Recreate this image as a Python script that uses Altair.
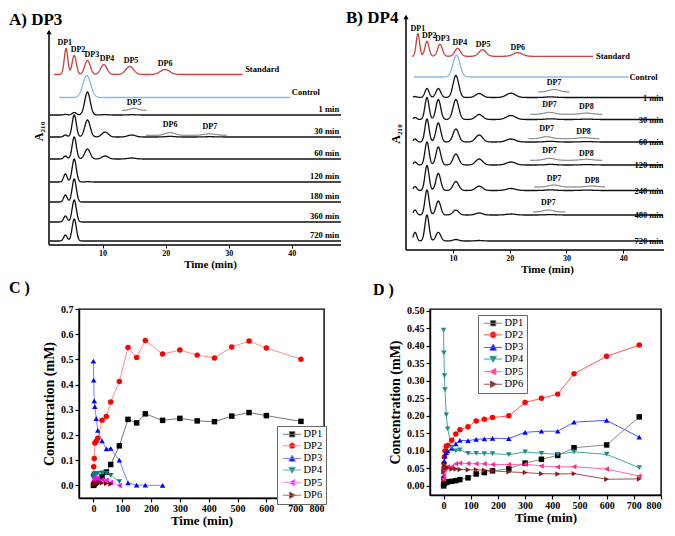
import altair as alt
import numpy as np
import pandas as pd

SERIF = "Liberation Serif"

# ======================= Panel A : DP3 hydrolysis (HPLC traces) =======================
A_axis_t = 1.5            # retention time where the y axis sits
A_xmax = 47.8
A_ydomain = [0, 228]
A_axis_top = 213
A_sigma = [0.28, 0.33, 0.43, 0.5, 0.62, 0.75, 0.9]          # peak width per DP1..DP7

A_std_rt = [4.2, 5.5, 7.6, 10.2, 14.3, 19.9]
A_std_h = [26, 19, 14, 10, 8, 5]
A_std_base = 170.5
A_std_span = [2.3, 32.2]
A_std_label_t = [4.0, 6.1, 8.3, 10.7, 14.5, 19.9]

A_ctrl_rt = [7.5]
A_ctrl_h = [22]
A_ctrl_sigma = [0.62]
A_ctrl_base = 147.5
A_ctrl_span = [3.1, 39.8]

A_names = ["1 min", "30 min", "60 min", "120 min", "180 min", "360 min", "720 min"]
A_base = [130, 108, 86, 63, 43, 23, 4]
A_rt = [4.1, 5.5, 7.6, 10.4, 14.6, 20.7, 27.0]
A_h = [
    [0.6, 2.5, 23, 0.4, 0.3, 0, 0],
    [2, 22, 17, 5, 2, 0.6, 0.3],
    [3, 22, 10, 3, 1, 0, 0],
    [8, 23, 0.3, 0, 0, 0, 0],
    [7, 23, 0, 0, 0, 0, 0],
    [6, 22, 0, 0, 0, 0, 0],
    [6, 22, 0, 0, 0, 0, 0],
]
A_span = [1.6, 47.8]
A_time_label_t = 47.5

A_inset_base = [134.7, 109.7]
A_inset_span = [[13.1, 17.0], [16.9, 29.7]]
A_inset_rt = [[15.0], [20.7, 27.0]]
A_inset_h = [[2.0], [2.7, 1.5]]
A_inset_sigma = [[0.6], [0.75, 0.9]]
A_inset_label = ["DP5", "DP6", "DP7"]
A_inset_label_t = [15.0, 20.7, 27.0]
A_inset_label_y = [138, 116, 114]

# ======================= Panel B : DP4 hydrolysis (HPLC traces) =======================
B_axis_t = 1.7
B_xmax = 47.2
B_ydomain = [0, 233]
B_axis_top = 233
B_sigma = [0.3, 0.36, 0.42, 0.5, 0.62, 0.8, 0.9, 1.0]

B_std_rt = [3.8, 5.4, 7.7, 10.8, 15.2, 21.4]
B_std_h = [22.6, 15, 12, 8, 6.6, 3.6]
B_std_base = 193.7
B_std_span = [2.75, 34.7]
B_std_label_t = [3.8, 5.8, 8.1, 11.2, 15.3, 21.4]

B_ctrl_rt = [10.6]
B_ctrl_h = [21.7]
B_ctrl_sigma = [0.62]
B_ctrl_base = 173
B_ctrl_span = [3.1, 40.9]

B_names = ["1 min", "30 min", "60 min", "120 min", "240 min", "480 min", "720 min"]
B_base = [152.5, 130.5, 108, 85, 59.5, 35, 9]
B_rt = [3.3, 5.4, 7.4, 10.5, 14.6, 20.2, 27.2, 33.6]
B_h = [
    [1, 9, 9, 22, 4, 4.3, 0.6, 0],
    [2, 22, 20, 20, 5, 4, 0.7, 0.4],
    [3, 23, 19, 13, 7, 3, 0.7, 0.4],
    [3, 23, 18, 11, 6, 3, 0.6, 0.4],
    [4, 25, 17, 9, 4.3, 2, 0.6, 0.4],
    [5, 25, 14, 5, 2, 1, 0.4, 0],
    [8.7, 26, 8.7, 1.5, 0.5, 0, 0, 0],
]
B_span = [2.9, 47.0]
B_time_label_t = 47.1

B_inset_base = [158, 135.7, 111.3, 89.7, 63, 38]
B_inset_span = [[25.0, 30.5], [23.6, 36.3], [23.3, 35.8], [23.6, 36.3], [24.3, 36.8], [24.1, 29.8]]
B_inset_rt = [[27.8], [27.0, 33.5], [26.5, 33.0], [27.0, 33.5], [27.8, 34.5], [26.8]]
B_inset_h = [[2.5], [2.0, 1.2], [2.0, 1.0], [2.0, 1.0], [2.0, 1.0], [2.0]]
B_inset_label = ["DP7", "DP7", "DP8", "DP7", "DP8", "DP7", "DP8", "DP7", "DP8", "DP7"]
B_inset_label_t = [27.8, 27.0, 33.5, 26.5, 33.0, 27.0, 33.5, 27.8, 34.5, 26.8]
B_inset_label_y = [163, 141, 139, 117, 114.5, 95, 92.5, 67, 65, 43]

# ======================= Panel C : product concentrations from DP3 =======================
C_series = ["DP1", "DP2", "DP3", "DP4", "DP5", "DP6"]
C_shapes = ["square", "circle", "triangle-up", "triangle-down", "triangle-left", "triangle-right"]
C_time = [0, 1, 3, 5, 10, 15, 30, 45, 60, 90, 120, 150, 180, 240, 300, 360, 420, 480, 540, 600, 720]
C_DP1 = [0.0, 0.002, 0.005, 0.008, 0.012, 0.018, 0.035, 0.053, 0.083, 0.157, 0.262, 0.248, 0.284,
         0.258, 0.266, 0.256, 0.253, 0.275, 0.289, 0.277, 0.254]
C_DP2 = [0.041, 0.074, 0.107, 0.168, 0.176, 0.187, 0.259, 0.273, 0.331, 0.412, 0.547, 0.508, 0.575,
         0.521, 0.537, 0.517, 0.506, 0.549, 0.573, 0.545, 0.501]
C_DP3 = [0.493, 0.418, 0.335, 0.313, 0.265, 0.218, 0.177, 0.145, 0.147, 0.100, 0.010, 0.001, 0.001, 0.0]
C_DP4 = [0.030, 0.040, 0.045, 0.047, 0.048, 0.048, 0.050, 0.048, 0.040, 0.015]
C_DP5 = [0.010, 0.020, 0.025, 0.030, 0.028, 0.025, 0.022, 0.020, 0.012, 0.0]
C_DP6 = [0.003, 0.005, 0.007, 0.008, 0.009, 0.010, 0.010, 0.008, 0.006]

# ======================= Panel D : product concentrations from DP4 =======================
D_time = [0, 1, 3, 5, 10, 15, 30, 45, 60, 90, 120, 150, 180, 240, 300, 360, 420, 480, 600, 720]
D_DP1 = [0.0, 0.005, 0.008, 0.010, 0.010, 0.012, 0.013, 0.015, 0.018, 0.023, 0.034, 0.038, 0.043,
         0.049, 0.065, 0.076, 0.087, 0.109, 0.117, 0.197]
D_DP2 = [0.020, 0.065, 0.083, 0.100, 0.113, 0.115, 0.130, 0.148, 0.160, 0.169, 0.185, 0.190, 0.195,
         0.200, 0.238, 0.250, 0.262, 0.320, 0.370, 0.402]
D_DP3 = [0.030, 0.050, 0.070, 0.085, 0.095, 0.100, 0.107, 0.120, 0.130, 0.129, 0.133, 0.134, 0.136,
         0.135, 0.153, 0.156, 0.156, 0.182, 0.187, 0.139]
D_DP4 = [0.445, 0.380, 0.315, 0.275, 0.203, 0.163, 0.110, 0.100, 0.103, 0.093, 0.093, 0.092, 0.092,
         0.089, 0.097, 0.093, 0.090, 0.097, 0.090, 0.052]
D_DP5 = [0.020, 0.030, 0.045, 0.050, 0.052, 0.055, 0.055, 0.063, 0.065, 0.064, 0.063, 0.063, 0.061,
         0.061, 0.062, 0.057, 0.054, 0.055, 0.048, 0.028]
D_DP6 = [0.040, 0.050, 0.060, 0.055, 0.054, 0.052, 0.048, 0.048, 0.047, 0.046, 0.046, 0.045, 0.043,
         0.040, 0.038, 0.035, 0.034, 0.035, 0.019, 0.020]

C_colors = ["#000000", "#ff0000", "#0000ff", "#008080", "#ff00ff", "#800000"]
D_colors = ["#000000", "#ff0000", "#0000ff", "#1f8a8a", "#ff2a8a", "#8b1a1a"]
C_line_colors = ["#777777", "#ff8c8c", "#8080ff", "#66b3b3", "#ff88ff", "#b36b6b"]
D_line_colors = ["#888888", "#ff5555", "#5555ff", "#4aa3a3", "#ff66aa", "#a05050"]

# ----------------------------- layout (pixels) -----------------------------
A_AXIS_OFFSET, A_W = 30, 262      # y-axis drawn 30 px left of panel A's view
B_AXIS_OFFSET, B_W = 24, 234
C_W, C_H, D_W, D_H = 245, 189, 231, 186


# ----------------------------------------------------------------------------------------
def peak_trace(name, kind, base, span, rts, hs, sigmas, step=0.05):
    t = np.arange(span[0], span[1] + 1e-9, step)
    y = np.full_like(t, float(base))
    for rt, h, s in zip(rts, hs, sigmas):
        if h:
            y = y + h * np.exp(-0.5 * ((t - rt) / s) ** 2)
    return pd.DataFrame({"t": np.round(t, 3), "y": np.round(y, 3), "trace": name, "kind": kind})


def chrom_panel(main_df, inset_df, texts, axis_t, xmax, ydom, axis_top, width, axis_offset, title):
    px_per_min = (width + axis_offset) / (xmax - axis_t)
    xdom = [axis_t + axis_offset / px_per_min, xmax]
    x = alt.X("t:Q", scale=alt.Scale(domain=xdom, nice=False, zero=False),
              axis=alt.Axis(values=[10, 20, 30, 40], format="d", title="Time (min)",
                            labelFontSize=8, titleFontSize=11, tickSize=3, labelPadding=1,
                            titlePadding=1, domain=False, tickWidth=1, grid=False))
    y = alt.Y("y:Q", scale=alt.Scale(domain=ydom, nice=False, zero=False),
              axis=alt.Axis(title="A₂₁₀", labels=False, ticks=False, domain=False,
                            offset=axis_offset, titleFontSize=12, titlePadding=4, grid=False))
    axis_df = pd.DataFrame({"t": [axis_t], "t2": [xmax], "y": [ydom[0]], "y2": [axis_top]})
    layers = [
        alt.Chart(main_df).mark_line(strokeWidth=1.3, clip=False).encode(
            x=x, y=y, detail="trace:N",
            color=alt.Color("kind:N", scale=alt.Scale(domain=["standard", "control", "sample"],
                                                      range=["#c8423f", "#86b9e8", "#111111"]),
                            legend=None)),
        alt.Chart(inset_df).mark_line(strokeWidth=0.9, color="#444444", clip=False).encode(
            x=x, y=y, detail="trace:N"),
        alt.Chart(axis_df).mark_rule(strokeWidth=1.5, color="black").encode(
            x=x, y=y, y2=alt.Y2("y2:Q")),
        alt.Chart(axis_df).mark_rule(strokeWidth=1.5, color="black").encode(
            x=x, x2=alt.X2("t2:Q"), y=y),
        alt.Chart(axis_df).mark_point(shape="triangle-up", filled=True, size=28,
                                      color="black", opacity=1, clip=False)
        .encode(x=x, y=alt.Y("y2:Q", scale=alt.Scale(domain=ydom, nice=False, zero=False))),
    ]
    for df, align, baseline, size in texts:
        layers.append(alt.Chart(df).mark_text(align=align, baseline=baseline, font=SERIF,
                                              fontWeight="bold", fontSize=size, color="black")
                      .encode(x=x, y=y, text="label:N"))
    return alt.layer(*layers).properties(
        width=width, height=ydom[1] - ydom[0], title=title,
        view=alt.ViewBackground(stroke="transparent"))


def build_chrom(std, ctrl, samples, insets, sigma):
    frames = [peak_trace("Standard", "standard", std["base"], std["span"], std["rt"], std["h"], sigma),
              peak_trace("Control", "control", ctrl["base"], ctrl["span"], ctrl["rt"], ctrl["h"], ctrl["sigma"])]
    for name, base, hs in zip(samples["names"], samples["base"], samples["h"]):
        frames.append(peak_trace(name, "sample", base, samples["span"], samples["rt"], hs, sigma))
    main_df = pd.concat(frames, ignore_index=True)
    ins = []
    for i, (base, span, rts, hs, sg) in enumerate(insets):
        ins.append(peak_trace(f"inset{i}", "inset", base, span, rts, hs, sg))
    inset_df = pd.concat(ins, ignore_index=True)
    return main_df, inset_df


def panel_title(text, dx, offset, size):
    return alt.TitleParams(text, anchor="start", frame="group", dx=dx, offset=offset,
                           fontSize=size, font=SERIF, fontWeight="bold", color="black")


# ---------------- Panel A ----------------
A_main, A_ins = build_chrom(
    {"base": A_std_base, "span": A_std_span, "rt": A_std_rt, "h": A_std_h},
    {"base": A_ctrl_base, "span": A_ctrl_span, "rt": A_ctrl_rt, "h": A_ctrl_h, "sigma": A_ctrl_sigma},
    {"names": A_names, "base": A_base, "span": A_span, "rt": A_rt, "h": A_h},
    list(zip(A_inset_base, A_inset_span, A_inset_rt, A_inset_h, A_inset_sigma)),
    A_sigma)
A_dp_labels = pd.DataFrame({"t": A_std_label_t + A_inset_label_t,
                            "y": [A_std_base + h + 1.5 for h in A_std_h] + A_inset_label_y,
                            "label": [f"DP{i + 1}" for i in range(6)] + A_inset_label})
A_left_labels = pd.DataFrame({"t": [32.6, 40.0], "y": [A_std_base + 1, A_ctrl_base + 1],
                              "label": ["Standard", "Control"]})
A_right_labels = pd.DataFrame({"t": [A_time_label_t] * len(A_names),
                               "y": [b + 1.5 for b in A_base], "label": A_names})
A_chart = chrom_panel(A_main, A_ins,
                      [(A_dp_labels, "center", "bottom", 8),
                       (A_left_labels, "left", "bottom", 8.5),
                       (A_right_labels, "right", "bottom", 8.5)],
                      A_axis_t, A_xmax, A_ydomain, A_axis_top, A_W, A_AXIS_OFFSET,
                      panel_title("A) DP3", -70, -12, 17))

# ---------------- Panel B ----------------
B_main, B_ins = build_chrom(
    {"base": B_std_base, "span": B_std_span, "rt": B_std_rt, "h": B_std_h},
    {"base": B_ctrl_base, "span": B_ctrl_span, "rt": B_ctrl_rt, "h": B_ctrl_h, "sigma": B_ctrl_sigma},
    {"names": B_names, "base": B_base, "span": B_span, "rt": B_rt, "h": B_h},
    [(b, s, r, h, [B_sigma[6], B_sigma[7]][:len(r)])
     for b, s, r, h in zip(B_inset_base, B_inset_span, B_inset_rt, B_inset_h)],
    B_sigma)
B_dp_labels = pd.DataFrame({"t": B_std_label_t + B_inset_label_t,
                            "y": [B_std_base + h + 1 for h in B_std_h] + B_inset_label_y,
                            "label": [f"DP{i + 1}" for i in range(6)] + B_inset_label})
B_left_labels = pd.DataFrame({"t": [35.2, 41.1], "y": [B_std_base, B_ctrl_base],
                              "label": ["Standard", "Control"]})
B_right_labels = pd.DataFrame({"t": [B_time_label_t] * len(B_names), "y": B_base, "label": B_names})
B_chart = chrom_panel(B_main, B_ins,
                      [(B_dp_labels, "center", "bottom", 8),
                       (B_left_labels, "left", "middle", 8.5),
                       (B_right_labels, "right", "middle", 8.5)],
                      B_axis_t, B_xmax, B_ydomain, B_axis_top, B_W, B_AXIS_OFFSET,
                      panel_title("B) DP4", -84, -12, 17))


# ---------------- Panels C and D ----------------
def legend_paths():
    line = "M-0.8,0H5.3"
    return [
        line + "M1.4,-0.9H3.2V0.9H1.4Z",
        line + "M1.3,0A1,1 0 1,0 3.3,0A1,1 0 1,0 1.3,0Z",
        line + "M2.3,-1.1L3.4,0.9H1.2Z",
        line + "M2.3,1.1L3.4,-0.9H1.2Z",
        line + "M1.2,0L3.2,-1.1V1.1Z",
        line + "M3.4,0L1.4,-1.1V1.1Z",
    ]


def conc_panel(times, values, colors, line_colors, ydom, yvals, yfmt, width, height,
               leg_x, leg_y, title):
    rows = []
    for s, vals in zip(C_series, values):
        for t, v in zip(times, vals):
            rows.append({"t": t, "c": v, "series": s})
    df = pd.DataFrame(rows)
    x = alt.X("t:Q", scale=alt.Scale(domain=[-50, 800], nice=False, zero=False),
              axis=alt.Axis(values=list(range(0, 801, 100)), format="d", title="Time (min)",
                            labelFontSize=10, titleFontSize=13, tickSize=4, labelPadding=1,
                            titlePadding=1, domainWidth=1.4, tickWidth=1.2, grid=False))
    y = alt.Y("c:Q", scale=alt.Scale(domain=ydom, nice=False, zero=False),
              axis=alt.Axis(values=yvals, format=yfmt, title="Concentration (mM)",
                            labelFontSize=10, titleFontSize=14, tickSize=4, labelPadding=2,
                            titlePadding=4, domainWidth=1.4, tickWidth=1.2, grid=False))
    leg_def = alt.Legend(title=None, orient="none", legendX=leg_x, legendY=leg_y,
                         symbolSize=36, symbolStrokeWidth=1, labelFont=SERIF,
                         labelFontSize=10.5, labelColor="black", labelOffset=13,
                         padding=3, rowPadding=0.6, strokeColor="#666666",
                         fillColor="white", cornerRadius=0, symbolOpacity=1)
    fill_scale = alt.Scale(domain=C_series, range=colors)
    stroke_scale = alt.Scale(domain=C_series, range=line_colors)
    layers = [alt.Chart(df).mark_line(strokeWidth=1).encode(
        x=x, y=y, stroke=alt.Stroke("series:N", scale=stroke_scale, legend=leg_def))]
    for s, shp in zip(C_series, C_shapes):
        layers.append(alt.Chart(df).transform_filter(alt.datum.series == s).mark_point(
            filled=True, shape=shp, size=30, opacity=1, strokeWidth=0).encode(
            x=x, y=y, fill=alt.Fill("series:N", scale=fill_scale, legend=leg_def)))
    layers.append(alt.Chart(df).transform_filter("datum.t < -1000").mark_point(
        filled=True, opacity=1, strokeWidth=1).encode(
        x=x, y=y,
        fill=alt.Fill("series:N", scale=fill_scale, legend=leg_def),
        stroke=alt.Stroke("series:N", scale=stroke_scale, legend=leg_def),
        shape=alt.Shape("series:N", scale=alt.Scale(domain=C_series, range=legend_paths()),
                        legend=leg_def)))
    return alt.layer(*layers).properties(width=width, height=height, title=title)


C_chart = conc_panel(C_time, [C_DP1, C_DP2, C_DP3, C_DP4, C_DP5, C_DP6], C_colors, C_line_colors,
                     [-0.05, 0.7], [round(0.1 * i, 1) for i in range(8)], ".1f", C_W, C_H,
                     198, 117, panel_title("C )", -70, 8, 16))
D_chart = conc_panel(D_time, [D_DP1, D_DP2, D_DP3, D_DP4, D_DP5, D_DP6], D_colors, D_line_colors,
                     [-0.026, 0.505], [round(0.05 * i, 2) for i in range(11)], ".2f", D_W, D_H,
                     48, 6, panel_title("D )", -57, 8, 16))

IND = dict(color="independent", shape="independent", fill="independent", stroke="independent")
chart = alt.concat(A_chart, B_chart, C_chart, D_chart, columns=2, bounds="flush", align="each",
                   spacing={"row": 59, "column": 89}).resolve_scale(**IND).properties(
    padding=0).configure(font=SERIF).configure_axis(
    labelFont=SERIF, titleFont=SERIF, labelFontWeight="bold", titleFontWeight="bold",
    labelColor="black", titleColor="black", domainColor="black", tickColor="black"
).configure_view(stroke="black", strokeWidth=1.4)

chart.save("out.html", embed_options={"renderer": "svg", "actions": False})
